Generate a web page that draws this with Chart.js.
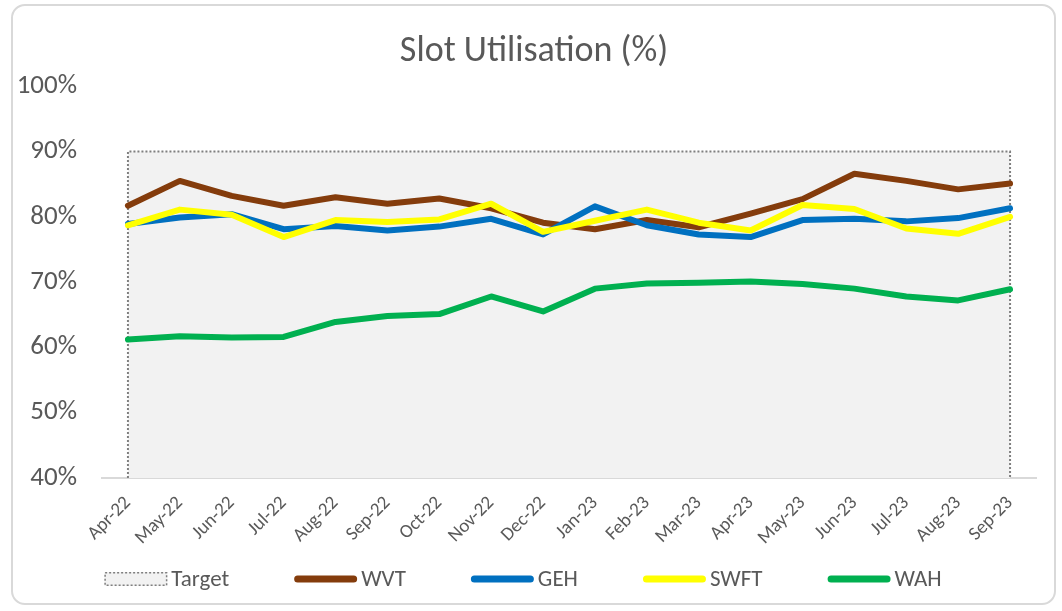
<!DOCTYPE html>
<html>
<head>
<meta charset="utf-8">
<title>Slot Utilisation (%)</title>
<script src="https://cdn.jsdelivr.net/npm/chart.js@4.4.1/dist/chart.umd.min.js"></script>
<style>
  html, body { margin: 0; padding: 0; background: #ffffff; }
  #wrap { position: relative; width: 1062px; height: 611px; overflow: hidden; }
  #frame {
    position: absolute; left: 11px; top: 4px; width: 1045px; height: 601px;
    border: 2px solid #d9d9d9; border-radius: 14px; box-sizing: border-box;
  }
  #chart { position: absolute; left: 0; top: 0; }
</style>
</head>
<body>
<div id="wrap">
  <div id="frame"></div>
  <canvas id="chart" width="1062" height="611"></canvas>
</div>
<script>
// Monthly slot utilisation, percent
const months = ['Apr-22','May-22','Jun-22','Jul-22','Aug-22','Sep-22','Oct-22','Nov-22','Dec-22',
                'Jan-23','Feb-23','Mar-23','Apr-23','May-23','Jun-23','Jul-23','Aug-23','Sep-23'];
const target = [90, 90, 90, 90, 90, 90, 90, 90, 90, 90, 90, 90, 90, 90, 90, 90, 90, 90];
const wvt  = [81.7, 85.5, 83.2, 81.7, 83.0, 82.0, 82.8, 81.3, 79.1, 78.1, 79.5, 78.4, 80.5, 82.7, 86.6, 85.5, 84.2, 85.1];
const geh  = [78.9, 79.9, 80.4, 78.1, 78.6, 77.9, 78.5, 79.7, 77.3, 81.6, 78.7, 77.3, 76.9, 79.5, 79.7, 79.3, 79.8, 81.3];
const swft = [78.7, 81.1, 80.3, 76.9, 79.5, 79.2, 79.6, 82.0, 77.7, 79.4, 81.1, 79.1, 77.9, 81.8, 81.2, 78.2, 77.4, 80.0];
const wah  = [61.2, 61.7, 61.5, 61.6, 63.9, 64.8, 65.1, 67.8, 65.5, 69.0, 69.8, 69.9, 70.1, 69.7, 69.0, 67.8, 67.2, 68.9];
const yTicks = [40, 50, 60, 70, 80, 90, 100];

const Y_MIN = yTicks[0], Y_MAX = yTicks[yTicks.length - 1];
const FONT = "Carlito, Lato, 'Open Sans', sans-serif";
const TEXT = '#595959';

// Target band: closed outline running up from the axis, along the target, and back down
const targetOutline = [{ x: months[0], y: Y_MIN }]
  .concat(months.map((m, i) => ({ x: m, y: target[i] })))
  .concat([{ x: months[months.length - 1], y: Y_MIN }]);

function series(label, data, color, order) {
  return {
    label, data, borderColor: color, backgroundColor: color, borderWidth: 6,
    pointRadius: 0, pointHoverRadius: 0, tension: 0, fill: false, order,
    borderCapStyle: 'round', borderJoinStyle: 'round'
  };
}

const datasets = [
  {
    label: 'Target', data: targetOutline, borderColor: '#7f7f7f', backgroundColor: '#f2f2f2',
    borderWidth: 2, borderDash: [2, 2], pointRadius: 0, tension: 0, fill: 'start', order: 5,
    legendKind: 'box'
  },
  series('WVT', wvt, '#843c0c', 4),
  series('GEH', geh, '#0070c0', 3),
  series('SWFT', swft, '#ffff00', 2),
  series('WAH', wah, '#00b050', 1)
];

// Legend row drawn beneath the axis labels
const bottomLegend = {
  id: 'bottomLegend',
  afterDraw(chart) {
    const ctx = chart.ctx;
    const y = 579;
    const swatchW = 63, gap = 4, spacing = 65;
    ctx.save();
    ctx.font = '23px ' + FONT;
    ctx.textBaseline = 'middle';
    ctx.textAlign = 'left';
    const items = chart.data.datasets.map(ds => ({ ds, w: swatchW + gap + ctx.measureText(ds.label).width }));
    const total = items.reduce((s, it) => s + it.w, 0) + spacing * (items.length - 1);
    let x = 523 - total / 2;
    items.forEach(({ ds, w }) => {
      if (ds.legendKind === 'box') {
        ctx.fillStyle = ds.backgroundColor;
        ctx.fillRect(x, y - 7, swatchW, 14);
        ctx.setLineDash([2, 2]);
        ctx.lineWidth = 1.5;
        ctx.strokeStyle = ds.borderColor;
        ctx.strokeRect(x + 0.75, y - 6.25, swatchW - 1.5, 12.5);
        ctx.setLineDash([]);
      } else {
        ctx.lineCap = 'round';
        ctx.lineWidth = 7;
        ctx.strokeStyle = ds.borderColor;
        ctx.beginPath();
        ctx.moveTo(x + 3.5, y);
        ctx.lineTo(x + swatchW - 3.5, y);
        ctx.stroke();
      }
      ctx.fillStyle = TEXT;
      ctx.fillText(ds.label, x + swatchW + gap, y + 1);
      x += w + spacing;
    });
    ctx.restore();
  }
};

new Chart(document.getElementById('chart'), {
  type: 'line',
  data: { labels: months, datasets },
  plugins: [bottomLegend],
  options: {
    responsive: false,
    animation: false,
    events: [],
    layout: { padding: { left: 12, right: 6, top: 0, bottom: 63 } },
    plugins: {
      legend: { display: false },
      tooltip: { enabled: false },
      title: {
        display: true, text: 'Slot Utilisation (%)', color: TEXT,
        font: { family: FONT, size: 36, weight: 'normal', lineHeight: 1.2 },
        padding: { top: 30, bottom: 13 }
      }
    },
    scales: {
      x: {
        type: 'category', offset: true,
        grid: { display: false, drawTicks: false },
        border: { display: true, color: '#d9d9d9', width: 2 },
        ticks: { color: TEXT, font: { family: FONT, size: 19 }, minRotation: 45, maxRotation: 45, padding: 14, autoSkip: false },
        afterFit(scale) { scale.height = 70; }
      },
      y: {
        min: Y_MIN, max: Y_MAX,
        afterBuildTicks(scale) { scale.ticks = yTicks.map(v => ({ value: v })); },
        grid: { display: false, drawTicks: false },
        border: { display: false },
        ticks: { color: TEXT, font: { family: FONT, size: 27 }, padding: 25, callback: v => v + '%' },
        afterFit(scale) { scale.width = 90; }
      },
      // empty right-hand gutter so the plot ends short of the frame
      gutter: {
        position: 'right', min: Y_MIN, max: Y_MAX,
        grid: { display: false, drawTicks: false },
        border: { display: false },
        ticks: { display: false },
        afterFit(scale) { scale.width = 20; }
      }
    }
  }
});
</script>
</body>
</html>
